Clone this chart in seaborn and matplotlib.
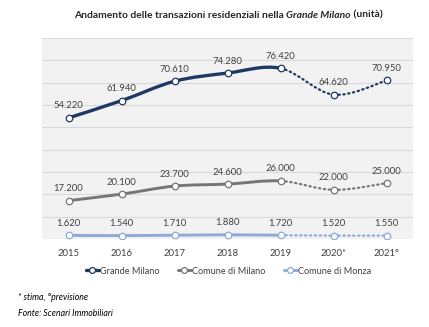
import numpy as np
import pandas as pd
import matplotlib
matplotlib.use("Agg")
import matplotlib.pyplot as plt
from matplotlib.path import Path
from matplotlib.patches import PathPatch
from matplotlib.lines import Line2D
import seaborn as sns

# Dati
anni = ["2015", "2016", "2017", "2018", "2019", "2020*", "2021°"]
grande_milano = [54220, 61940, 70610, 74280, 76420, 64620, 70950]
comune_milano = [17200, 20100, 23700, 24600, 26000, 22000, 25000]
comune_monza = [1620, 1540, 1710, 1880, 1720, 1520, 1550]
serie_nomi = ["Grande Milano", "Comune di Milano", "Comune di Monza"]
serie_valori = [grande_milano, comune_milano, comune_monza]
colori = ["#1f3864", "#767676", "#8eaadb"]
spessori = [2.4, 2.1, 2.1]
ultimo_consuntivo = 4  # indice del 2019: da qui in poi linea punteggiata

sns.set_style("white")
plt.rcParams["font.family"] = ["Lato", "DejaVu Sans"]

fig = plt.figure(figsize=(4.29, 3.27), dpi=100)
ax = fig.add_axes([0.098, 0.269, 0.865, 0.615])
ax.set_facecolor("#f2f2f2")

x = np.arange(len(anni))


def segmenti_smussati(xs, ys):
    """Segmenti di Bézier cubici (Catmull-Rom) tra punti consecutivi."""
    pts = np.column_stack([xs, ys]).astype(float)
    n = len(pts)
    segs = []
    for i in range(n - 1):
        p0 = pts[max(i - 1, 0)]
        p1 = pts[i]
        p2 = pts[i + 1]
        p3 = pts[min(i + 2, n - 1)]
        c1 = p1 + (p2 - p0) / 6.0
        c2 = p2 - (p3 - p1) / 6.0
        segs.append([p1, c1, c2, p2])
    return segs


for nome, valori, col, lw in zip(serie_nomi, serie_valori, colori, spessori):
    segs = segmenti_smussati(x, valori)
    for i, s in enumerate(segs):
        path = Path(s, [Path.MOVETO, Path.CURVE4, Path.CURVE4, Path.CURVE4])
        if i < ultimo_consuntivo:
            patch = PathPatch(path, fill=False, edgecolor=col, lw=lw,
                              capstyle="round", zorder=3)
        else:
            patch = PathPatch(path, fill=False, edgecolor=col, lw=1.6,
                              linestyle=(0, (0.6, 1.6)), capstyle="round",
                              zorder=3)
        ax.add_patch(patch)
    sns.scatterplot(x=x, y=valori, ax=ax, color="white", edgecolor=col,
                    linewidth=0.9, s=22, zorder=4, legend=False)
    for xi, v in zip(x, valori):
        ax.annotate(f"{v:,}".replace(",", "."), (xi, v),
                    xytext=(0, 8.6), textcoords="offset points",
                    ha="center", va="center", fontsize=6.8, color="#404040")

ax.set_xlim(-0.5, len(anni) - 0.5)
ax.set_ylim(0, 90000)
ax.set_yticks(np.arange(0, 90001, 10000))
ax.set_yticklabels([])
ax.grid(axis="y", color="#d9d9d9", lw=0.8)
ax.set_axisbelow(True)
for sp in ax.spines.values():
    sp.set_visible(False)

ax.set_xticks(x)
ax.set_xticklabels(anni, fontsize=6.8, color="#404040")
ax.set_xticks(np.arange(-0.5, len(anni), 1.0), minor=True)
ax.tick_params(axis="x", which="major", length=0, pad=7)
ax.tick_params(axis="x", which="minor", length=4, color="#d0d0d0", width=0.8)
ax.tick_params(axis="y", length=0)

# Legenda
handles = [Line2D([0], [0], color=c, lw=lw, marker="o", markersize=4.2,
                  markerfacecolor="white", markeredgecolor=c,
                  markeredgewidth=0.9)
           for c, lw in zip(colori, spessori)]
fig.legend(handles, serie_nomi, loc="center", bbox_to_anchor=(0.532, 0.171),
           ncol=3, frameon=False, fontsize=6.6, handlelength=1.5,
           handletextpad=0.05, columnspacing=2.0, labelcolor="#404040")

# Titolo con parte in corsivo
renderer = fig.canvas.get_renderer()
parti = [("Andamento delle transazioni residenziali nella ", "normal"),
         ("Grande Milano", "italic"),
         (" (unità)", "normal")]
testi = []
for t, stile in parti:
    testi.append(fig.text(0, 0.953, t, fontsize=7.35, fontweight="bold",
                          style=stile, color="#262626", va="center",
                          ha="left"))
larghezze = [tt.get_window_extent(renderer).width for tt in testi]
totale = sum(larghezze)
x0 = 228 - totale / 2
for tt, w in zip(testi, larghezze):
    tt.set_x(x0 / fig.bbox.width)
    x0 += w

fig.text(18 / 429, 1 - 298 / 327, "* stima, °previsione", fontsize=6.3,
         style="italic", color="#000000", va="center")
fig.text(18 / 429, 1 - 314 / 327, "Fonte: Scenari Immobiliari", fontsize=6.3,
         style="italic", color="#000000", va="center")

fig.savefig("out.png", dpi=100, facecolor="white")
